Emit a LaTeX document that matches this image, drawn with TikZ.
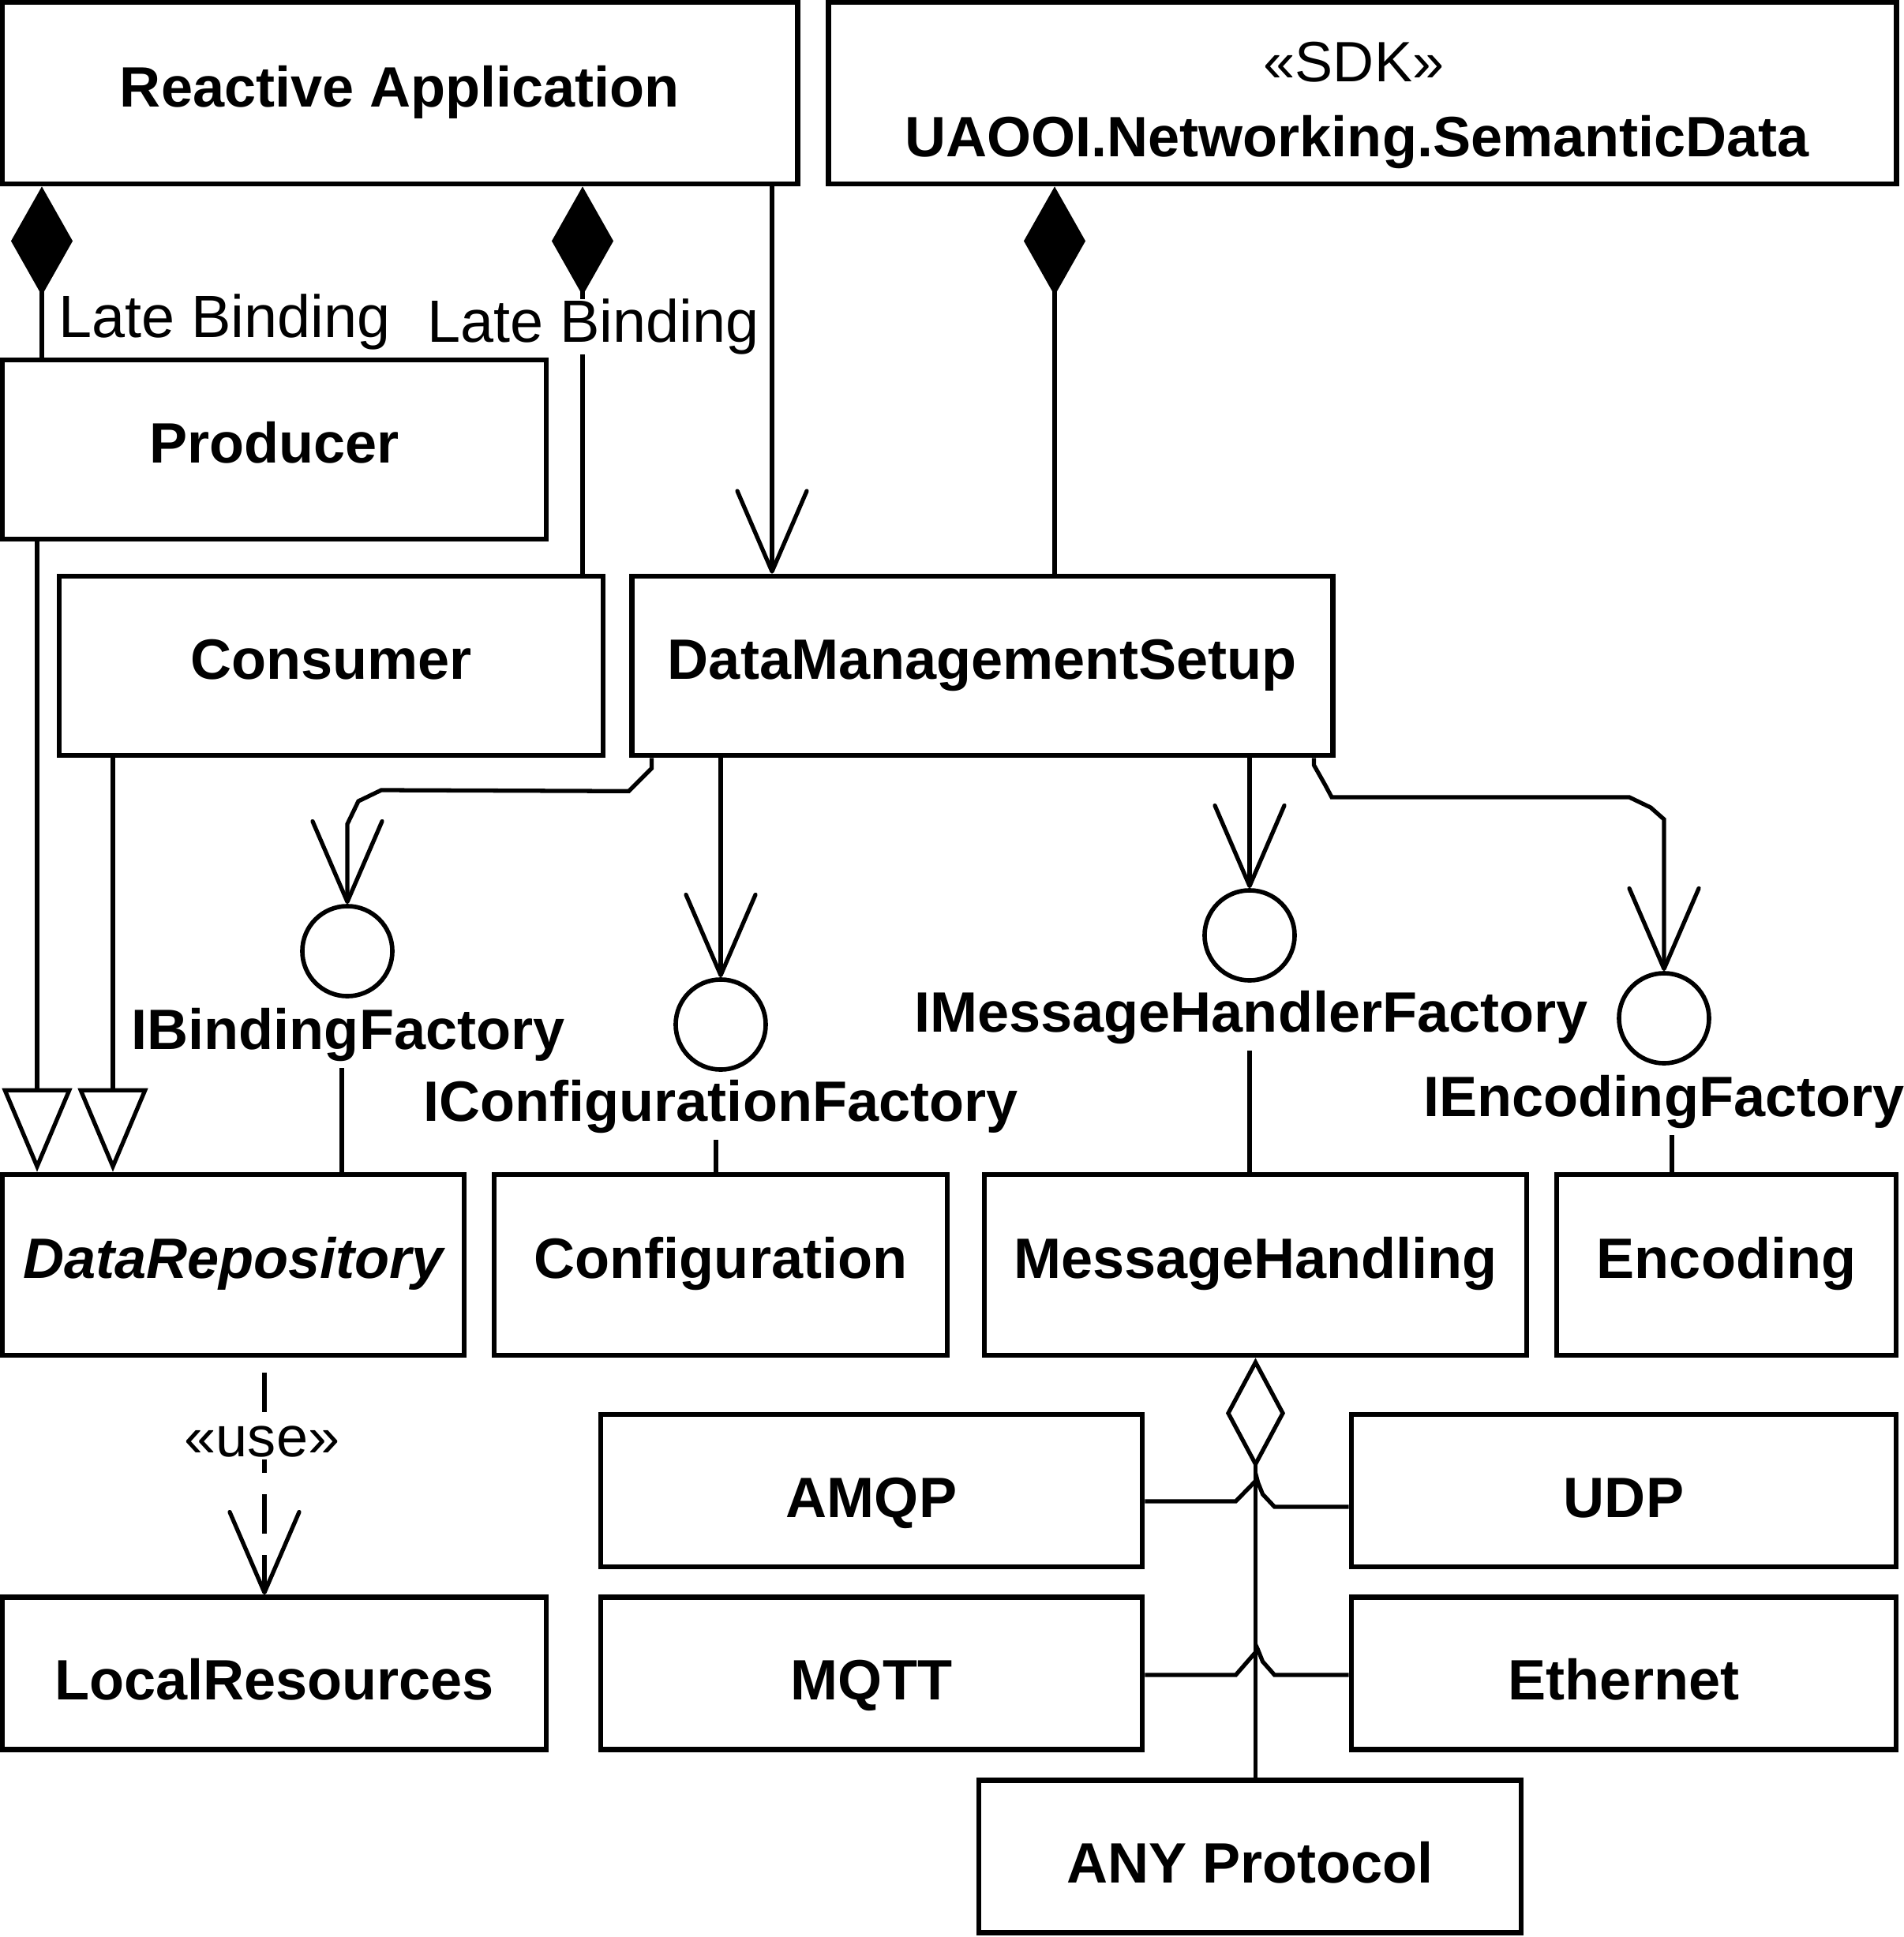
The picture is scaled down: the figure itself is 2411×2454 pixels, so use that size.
\documentclass[tikz,border=0pt]{standalone}
\usepackage{fontspec}
\setmainfont{Liberation Sans}
\usetikzlibrary{arrows.meta}

\begin{document}
\begin{tikzpicture}[x=0.01cm,y=-0.01cm,line width=1.5pt,
    box/.style={draw,line width=1.85pt,inner sep=0pt,font=\bfseries\fontsize{20.5}{24}\selectfont},
    tall/.style={minimum height=2.27cm,text height=0.52cm,text depth=0.18cm},
    low/.style={minimum height=1.93cm,text height=0.70cm,text depth=0.03cm},
    iface/.style={draw,circle,line width=1.6pt,minimum size=1.14cm,inner sep=0pt},
    iname/.style={font=\bfseries\fontsize{20.5}{24}\selectfont,inner sep=1.5pt,anchor=base},
    note/.style={font=\fontsize{20.5}{24}\selectfont,inner sep=1pt,anchor=base},
    lbl/.style={font=\fontsize{21.5}{26}\selectfont,inner sep=0pt,anchor=base west},
    nav/.style={-{Straight Barb[length=1.02cm,width=0.88cm,round]}},
    gen/.style={-{Triangle[open,length=1.06cm,width=0.88cm]}},
    comp/.style={{Diamond[length=1.38cm,width=0.78cm]}-},
    aggr/.style={{Diamond[open,length=1.40cm,width=0.75cm]}-}]
    \useasboundingbox (0,0) rectangle (2411,2454);

    \node[box,tall,minimum width=10.07cm,minimum height=2.30cm] (app) at (506.5,118) {Reactive Application};
    \node[box,minimum width=13.52cm,minimum height=2.30cm] (sdk) at (1726,118) {};
    \path (sdk.north) +(-11,104) node[note] (sdkst) {«SDK»}
      +(-7,199) node[iname,inner sep=0pt] (sdkname) {UAOOI.Networking.SemanticData};
    \node[box,tall,minimum width=6.89cm] (prod) at (347.5,569.5) {Producer};
    \node[box,tall,minimum width=6.89cm] (cons) at (419.5,843.5) {Consumer};
    \node[box,tall,minimum width=8.87cm] (dms) at (1244.5,843.5) {DataManagementSetup};
    \node[box,tall,minimum width=5.85cm,minimum height=2.29cm] (repo) at (295.5,1602.5) {\itshape DataRepository};
    \node[box,tall,minimum width=5.74cm,minimum height=2.29cm] (conf) at (913,1602.5) {Configuration};
    \node[box,tall,minimum width=6.87cm,minimum height=2.29cm] (msg) at (1590.5,1602.5) {MessageHandling};
    \node[box,tall,minimum width=4.30cm,minimum height=2.29cm] (enc) at (2187,1602.5) {Encoding};
    \node[box,low,minimum width=6.86cm] (amqp) at (1104,1888.5) {AMQP};
    \node[box,low,minimum width=6.90cm] (udp) at (2057,1888.5) {UDP};
    \node[box,low,minimum width=6.89cm] (local) at (347.5,2120) {LocalResources};
    \node[box,low,minimum width=6.86cm] (mqtt) at (1104,2120) {MQTT};
    \node[box,low,minimum width=6.90cm] (eth) at (2057,2120) {Ethernet};
    \node[box,low,minimum width=6.87cm] (any) at (1583.5,2352) {ANY Protocol};

    \node[iface] (ibf) at (440,1205) {};
    \node[iface] (icf) at (913,1298) {};
    \node[iface] (imf) at (1583,1185) {};
    \node[iface] (ief) at (2108,1290) {};
    \path (ibf.south) +(1,65) node[iname] (ibfl) {IBindingFactory}
      (icf.south) +(0,63) node[iname] (icfl) {IConfigurationFactory}
      (imf.south) +(2,63) node[iname] (imfl) {IMessageHandlerFactory}
      (ief.south) +(0,65) node[iname] (iefl) {IEncodingFactory};

    \draw[comp] (53,0 |- app.south) -- (53,0 |- prod.north);
    \draw[comp] (738,0 |- app.south) -- (738,0 |- cons.north);
    \draw[nav] (978,0 |- app.south) -- (978,0 |- dms.north);
    \draw[comp] (1336,0 |- sdk.south) -- (1336,0 |- dms.north);
    \path (app.south west) +(72,191) node[lbl] (lb1) {Late Binding}
      +(539,197) node[lbl,fill=white] (lb2) {Late Binding};
    \draw[gen] (47,0 |- prod.south) -- (47,0 |- repo.north);
    \draw[gen] (143,0 |- cons.south) -- (143,0 |- repo.north);

    \draw[nav] ([xshift=0.28cm]dms.south west) -- ++(0,13) -- ++(-29,29)
      -- (483,1001) -- (454,1015) -- (440,1044) -- (ibf.north);
    \draw[nav] (icf.north |- dms.south) -- (icf.north);
    \draw[nav] (imf.north |- dms.south) -- (imf.north);
    \draw[nav] ([xshift=-0.27cm]dms.south east) -- ++(0,9) -- (1679,995) -- (1687,1010)
      -- (2064,1010) -- (2091,1023) -- (ief.north |- 0,1038) -- (ief.north);
    \draw (433,0 |- ibfl.south) -- (433,0 |- repo.north);
    \draw (907,0 |- icfl.south) -- (907,0 |- conf.north);
    \draw (imf |- imfl.south) -- (imf |- msg.north);
    \draw (2118,0 |- iefl.south) -- (2118,0 |- enc.north);

    \coordinate (usefrom) at (335,1739);
    \draw[nav,dash pattern=on 0.5cm off 0.27cm] (usefrom) -- (usefrom |- local.north);
    \node[note,fill=white] (usel) at (332,1845) {«use»};

    \draw[aggr] (msg.south) -- (msg.south |- any.north);
    \path (msg.south) +(0,156) coordinate (j1) +(0,146) coordinate (j2)
      +(0,373) coordinate (j3) +(0,363) coordinate (j4);
    \draw ([yshift=-0.135cm]amqp.east) -- ++(115,0) -- (j1);
    \draw ([yshift=-0.205cm]udp.west) -- ++(-94,0) -- ++(-15,-16) -- ++(-6,-15) -- (j2);
    \draw ([yshift=-0.02cm]mqtt.east) -- ++(115,0) -- (j3);
    \draw ([yshift=-0.02cm]eth.west) -- ++(-94,0) -- ++(-15,-17) -- ++(-6,-15) -- (j4);

%    \draw (msg.south) -- (any.north);
  \end{tikzpicture}
\end{document}
